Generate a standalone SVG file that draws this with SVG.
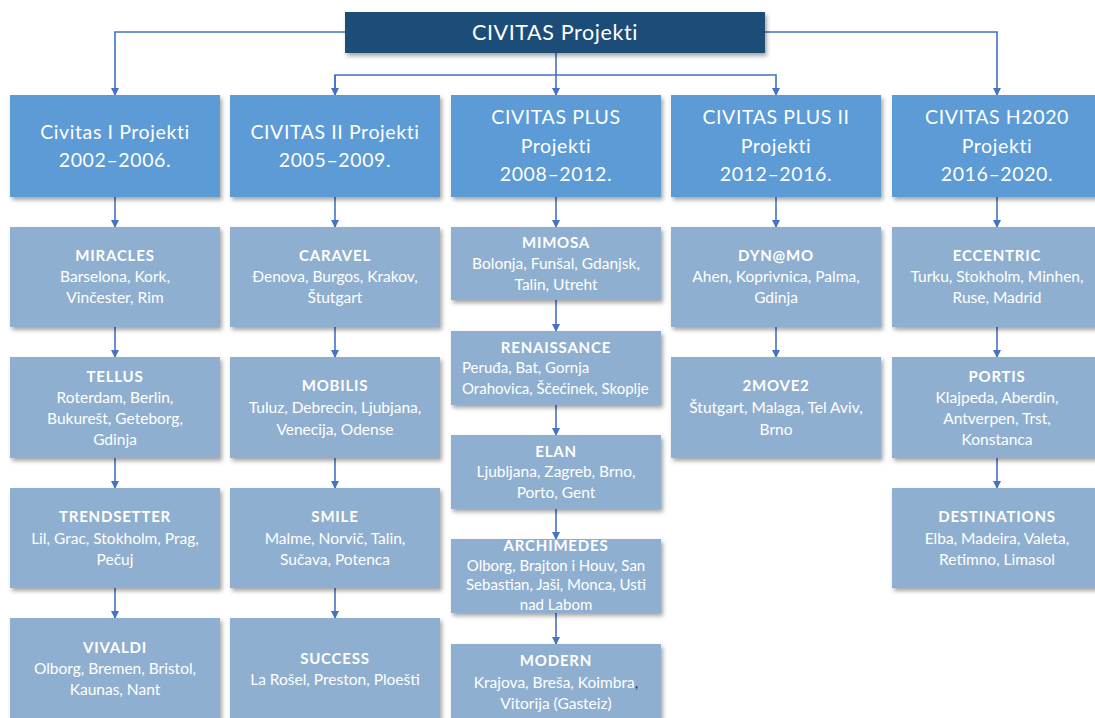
<svg xmlns="http://www.w3.org/2000/svg" width="1095" height="718" viewBox="0 0 1095 718">
<style>
.top{fill:#1F4E79}
.hdr{fill:#5B9BD5}
.box{fill:#8FAFD0}
.ht{font-family:Lato,"Open Sans",sans-serif;font-size:19.5px;fill:#fff;text-anchor:middle;letter-spacing:0.6px}
.tt{font-family:Lato,"Open Sans",sans-serif;font-size:21.5px;fill:#fff;text-anchor:middle;letter-spacing:0.6px}
.bt{font-family:Lato,"Liberation Sans",sans-serif;font-size:15.5px;fill:#fff;text-anchor:middle}
.b{font-weight:bold;letter-spacing:0.8px;font-size:15px}
.s{font-size:15px}
.l{text-anchor:start}
.c{fill:none;stroke:#4472C4;stroke-width:1.6}
</style>
<defs>
<filter id="sh" x="-10%" y="-10%" width="125%" height="130%">
<feDropShadow dx="2" dy="3" stdDeviation="2" flood-color="#000" flood-opacity="0.35"/>
</filter>
<marker id="ar" markerWidth="8" markerHeight="8" refX="7" refY="4" orient="auto" markerUnits="userSpaceOnUse">
<path d="M0,0 L8,4 L0,8 Z" fill="#4472C4"/>
</marker>
</defs>
<rect width="1095" height="718" fill="#fff"/>
<g id="connectors">
<path class="c" d="M345,32 H115 V95" marker-end="url(#ar)"/>
<path class="c" d="M765,32 H997 V95" marker-end="url(#ar)"/>
<path class="c" d="M556,53 V95" marker-end="url(#ar)"/>
<path class="c" d="M335,95 V75 H776 V95" marker-end="url(#ar)"/>
<path class="c" d="M335,75 V95" marker-end="url(#ar)"/>
<path class="c" d="M115,197 V227" marker-end="url(#ar)"/>
<path class="c" d="M115,327 V357" marker-end="url(#ar)"/>
<path class="c" d="M115,458 V488" marker-end="url(#ar)"/>
<path class="c" d="M115,588 V618" marker-end="url(#ar)"/>
<path class="c" d="M335,197 V227" marker-end="url(#ar)"/>
<path class="c" d="M335,327 V357" marker-end="url(#ar)"/>
<path class="c" d="M335,458 V488" marker-end="url(#ar)"/>
<path class="c" d="M335,588 V618" marker-end="url(#ar)"/>
<path class="c" d="M556,197 V227" marker-end="url(#ar)"/>
<path class="c" d="M556,300 V331" marker-end="url(#ar)"/>
<path class="c" d="M556,405 V435" marker-end="url(#ar)"/>
<path class="c" d="M556,509 V539" marker-end="url(#ar)"/>
<path class="c" d="M556,613 V644" marker-end="url(#ar)"/>
<path class="c" d="M776,197 V227" marker-end="url(#ar)"/>
<path class="c" d="M776,327 V357" marker-end="url(#ar)"/>
<path class="c" d="M997,197 V227" marker-end="url(#ar)"/>
<path class="c" d="M997,327 V357" marker-end="url(#ar)"/>
<path class="c" d="M997,458 V488" marker-end="url(#ar)"/>
</g>
<g id="root"><rect class="top" x="345" y="12" width="420" height="41" filter="url(#sh)"/><text class="tt" x="555" y="40">CIVITAS Projekti</text></g>
<g id="h1"><rect class="hdr" x="10" y="95" width="210" height="102" filter="url(#sh)"/><text class="ht" x="115" y="139">Civitas I Projekti</text><text class="ht" x="115" y="167">2002–2006.</text></g>
<g id="h2"><rect class="hdr" x="230" y="95" width="210" height="102" filter="url(#sh)"/><text class="ht" x="335" y="139">CIVITAS II Projekti</text><text class="ht" x="335" y="167">2005–2009.</text></g>
<g id="h3"><rect class="hdr" x="451" y="95" width="210" height="102" filter="url(#sh)"/><text class="ht" x="556" y="124">CIVITAS PLUS</text><text class="ht" x="556" y="153">Projekti</text><text class="ht" x="556" y="181">2008–2012.</text></g>
<g id="h4"><rect class="hdr" x="671" y="95" width="210" height="102" filter="url(#sh)"/><text class="ht" x="776" y="124">CIVITAS PLUS II</text><text class="ht" x="776" y="153">Projekti</text><text class="ht" x="776" y="181">2012–2016.</text></g>
<g id="h5"><rect class="hdr" x="892" y="95" width="210" height="102" filter="url(#sh)"/><text class="ht" x="997" y="124">CIVITAS H2020</text><text class="ht" x="997" y="153">Projekti</text><text class="ht" x="997" y="181">2016–2020.</text></g>

<g id="miracles"><rect class="box" x="10" y="227" width="210" height="100" filter="url(#sh)"/><text class="bt b" x="115" y="261">MIRACLES</text><text class="bt" x="115" y="282">Barselona, Kork,</text><text class="bt" x="115" y="303">Vinčester, Rim</text></g>
<g id="tellus"><rect class="box" x="10" y="357" width="210" height="101" filter="url(#sh)"/><text class="bt b" x="115" y="382">TELLUS</text><text class="bt" x="115" y="403">Roterdam, Berlin,</text><text class="bt" x="115" y="424">Bukurešt, Geteborg,</text><text class="bt" x="115" y="445">Gdinja</text></g>
<g id="trendsetter"><rect class="box" x="10" y="488" width="210" height="100" filter="url(#sh)"/><text class="bt b" x="115" y="522">TRENDSETTER</text><text class="bt" x="115" y="544">Lil, Grac, Stokholm, Prag,</text><text class="bt" x="115" y="565">Pečuj</text></g>
<g id="vivaldi"><rect class="box" x="10" y="618" width="210" height="105" filter="url(#sh)"/><text class="bt b" x="115" y="653">VIVALDI</text><text class="bt" x="115" y="674">Olborg, Bremen, Bristol,</text><text class="bt" x="115" y="695">Kaunas, Nant</text></g>

<g id="caravel"><rect class="box" x="230" y="227" width="210" height="100" filter="url(#sh)"/><text class="bt b" x="335" y="261">CARAVEL</text><text class="bt" x="335" y="282">Đenova, Burgos, Krakov,</text><text class="bt" x="335" y="303">Štutgart</text></g>
<g id="mobilis"><rect class="box" x="230" y="357" width="210" height="101" filter="url(#sh)"/><text class="bt b" x="335" y="391">MOBILIS</text><text class="bt" x="335" y="413">Tuluz, Debrecin, Ljubjana,</text><text class="bt" x="335" y="435">Venecija, Odense</text></g>
<g id="smile"><rect class="box" x="230" y="488" width="210" height="100" filter="url(#sh)"/><text class="bt b" x="335" y="522">SMILE</text><text class="bt" x="335" y="544">Malme, Norvič, Talin,</text><text class="bt" x="335" y="565">Sučava, Potenca</text></g>
<g id="success"><rect class="box" x="230" y="618" width="210" height="105" filter="url(#sh)"/><text class="bt b" x="335" y="664">SUCCESS</text><text class="bt" x="335" y="685">La Rošel, Preston, Ploešti</text></g>

<g id="mimosa"><rect class="box" x="451" y="227" width="210" height="73" filter="url(#sh)"/><text class="bt b" x="556" y="248">MIMOSA</text><text class="bt" x="556" y="269">Bolonja, Funšal, Gdanjsk,</text><text class="bt" x="556" y="290">Talin, Utreht</text></g>
<g id="renaissance"><rect class="box" x="451" y="331" width="210" height="74" filter="url(#sh)"/><text class="bt b" x="556" y="353">RENAISSANCE</text><text class="bt l s" x="462" y="373">Peruđa, Bat, Gornja</text><text class="bt l s" x="462" y="394">Orahovica, Ščećinek, Skoplje</text></g>
<g id="elan"><rect class="box" x="451" y="435" width="210" height="74" filter="url(#sh)"/><text class="bt b" x="556" y="457">ELAN</text><text class="bt" x="556" y="477">Ljubljana, Zagreb, Brno,</text><text class="bt" x="556" y="498">Porto, Gent</text></g>
<g id="archimedes"><rect class="box" x="451" y="539" width="210" height="74" filter="url(#sh)"/><text class="bt b" x="556" y="551">ARCHIMEDES</text><text class="bt s" x="556" y="571">Olborg, Brajton i Houv, San</text><text class="bt s" x="556" y="590">Sebastian, Jaši, Monca, Usti</text><text class="bt s" x="556" y="610">nad Labom</text></g>
<g id="modern"><rect class="box" x="451" y="644" width="210" height="79" filter="url(#sh)"/><text class="bt b" x="556" y="666">MODERN</text><text class="bt" x="556" y="688">Krajova, Breša, Koimbra<tspan fill="#333">,</tspan></text><text class="bt" x="556" y="709">Vitorija (Gasteiz)</text></g>

<g id="dynamo"><rect class="box" x="671" y="227" width="210" height="100" filter="url(#sh)"/><text class="bt b" x="776" y="261">DYN@MO</text><text class="bt" x="776" y="282">Ahen, Koprivnica, Palma,</text><text class="bt" x="776" y="303">Gdinja</text></g>
<g id="move2"><rect class="box" x="671" y="357" width="210" height="101" filter="url(#sh)"/><text class="bt b" x="776" y="391">2MOVE2</text><text class="bt" x="776" y="413">Štutgart, Malaga, Tel Aviv,</text><text class="bt" x="776" y="435">Brno</text></g>

<g id="eccentric"><rect class="box" x="892" y="227" width="210" height="100" filter="url(#sh)"/><text class="bt b" x="997" y="261">ECCENTRIC</text><text class="bt" x="997" y="282">Turku, Stokholm, Minhen,</text><text class="bt" x="997" y="303">Ruse, Madrid</text></g>
<g id="portis"><rect class="box" x="892" y="357" width="210" height="101" filter="url(#sh)"/><text class="bt b" x="997" y="382">PORTIS</text><text class="bt" x="997" y="403">Klajpeda, Aberdin,</text><text class="bt" x="997" y="424">Antverpen, Trst,</text><text class="bt" x="997" y="445">Konstanca</text></g>
<g id="destinations"><rect class="box" x="892" y="488" width="210" height="100" filter="url(#sh)"/><text class="bt b" x="997" y="522">DESTINATIONS</text><text class="bt" x="997" y="544">Elba, Madeira, Valeta,</text><text class="bt" x="997" y="565">Retimno, Limasol</text></g>
</svg>
